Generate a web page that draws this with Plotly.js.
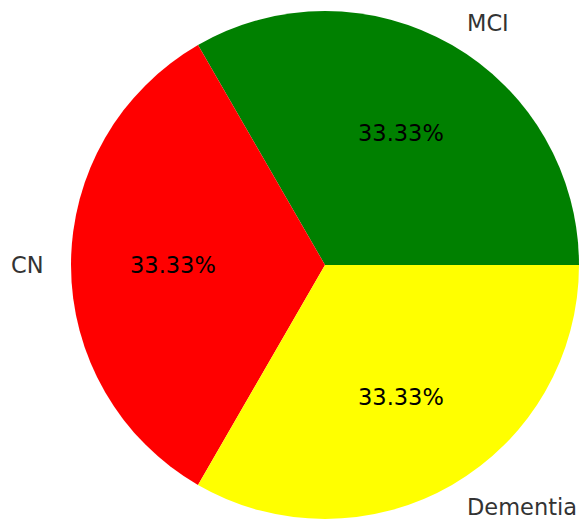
<!DOCTYPE html>
<html><head><meta charset="utf-8">
<script src="https://cdn.plot.ly/plotly-3.0.1.min.js"></script>
<style>body{margin:0;background:#fff}#c{width:579px;height:519px}</style>
</head><body><div id="c"></div>
<script>
const labels = ["MCI", "CN", "Dementia"];
const values = [1, 1, 1];
const colors = ["#008000", "#ff0000", "#ffff00"];

const W = 579, H = 519;
const cx = 325, cy = 265, R = 254;
const total = values.reduce((a, b) => a + b, 0);
const anns = [];
let start = 0;
values.forEach((v, i) => {
  const mid = (start + v / 2) / total * 2 * Math.PI;
  start += v;
  const c = Math.cos(mid), s = Math.sin(mid);
  anns.push({
    xref: "paper", yref: "paper",
    x: (cx + 0.6 * R * c) / W, y: 1 - (cy - 0.6 * R * s) / H,
    text: (v / total * 100).toFixed(2) + "%",
    showarrow: false, xanchor: "center", yanchor: "middle",
    font: {family: "DejaVu Sans", size: 22.5, color: "#000"}
  });
  anns.push({
    xref: "paper", yref: "paper",
    x: (cx + 1.1 * R * c) / W, y: 1 - (cy - 1.1 * R * s) / H,
    text: labels[i],
    showarrow: false, xanchor: c > 0.01 ? "left" : (c < -0.01 ? "right" : "center"), yanchor: "middle",
    font: {family: "DejaVu Sans", size: 22.5, color: "#333"}
  });
});

Plotly.newPlot("c", [{
  type: "pie",
  labels: labels,
  values: values,
  sort: false,
  direction: "counterclockwise",
  rotation: -30,
  textinfo: "none",
  hoverinfo: "none",
  marker: {colors: colors, line: {width: 0}},
  domain: {x: [(cx - R) / W, (cx + R) / W], y: [1 - (cy + R) / H, 1 - (cy - R) / H]}
}], {
  width: W, height: H,
  margin: {l: 0, r: 0, t: 0, b: 0},
  showlegend: false,
  paper_bgcolor: "#fff",
  annotations: anns
}, {displayModeBar: false, staticPlot: true});
</script></body></html>
